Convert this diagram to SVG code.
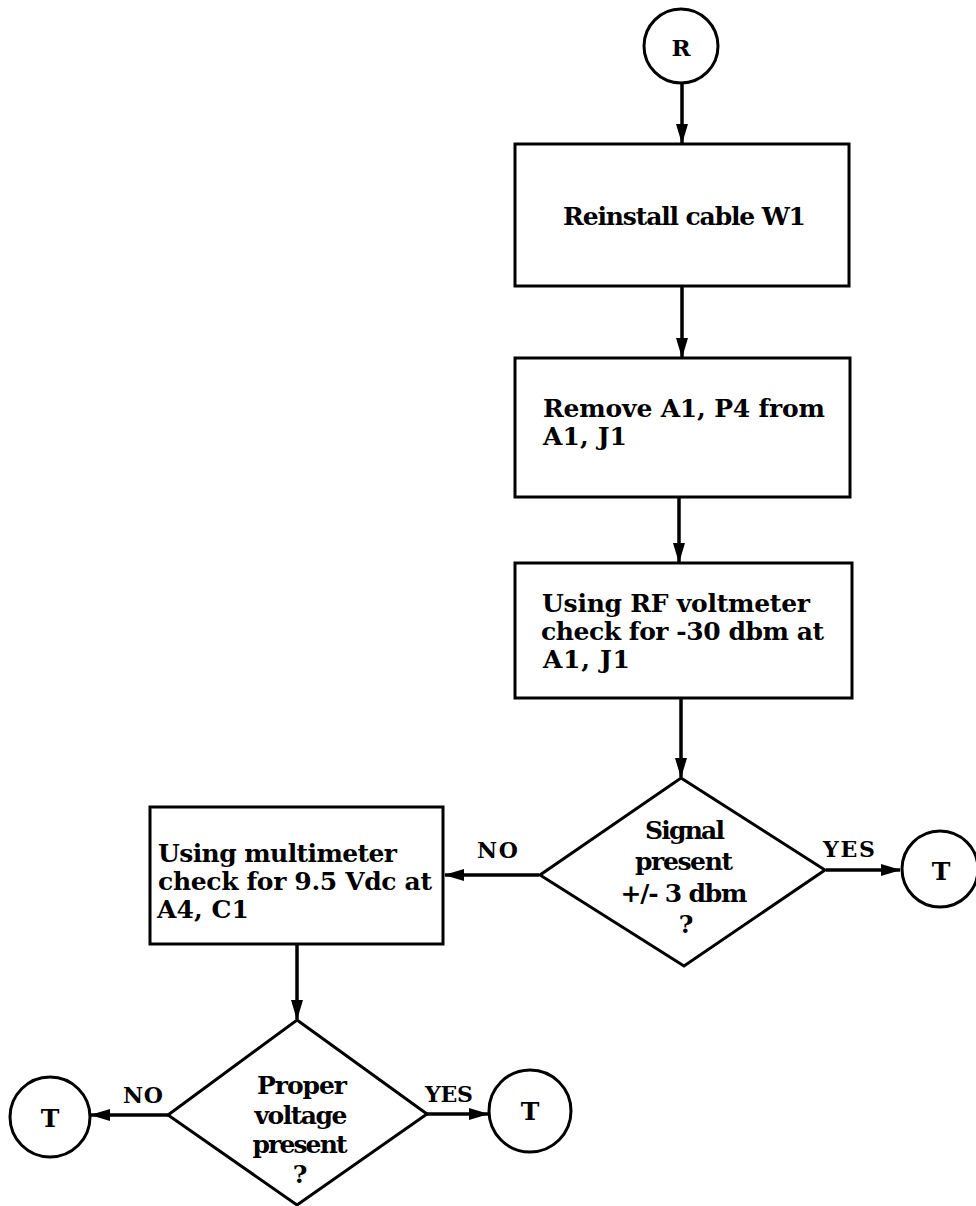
<svg xmlns="http://www.w3.org/2000/svg" width="976" height="1206" viewBox="0 0 976 1206">
<style>
.shape{fill:#fff;stroke:#000;stroke-width:3}
.t{font-family:"DejaVu Serif","Liberation Serif",serif;font-weight:bold;font-size:25px;fill:#000}
.lbl{font-size:22px}
.c{text-anchor:middle}
.conn line{stroke:#000;stroke-width:3.5}
</style>
<defs>
<marker id="ah" markerUnits="userSpaceOnUse" markerWidth="20" markerHeight="14" refX="19" refY="7" orient="auto"><path d="M0,1 L20,7 L0,13 Z" fill="#000"/></marker>
</defs>
<rect width="976" height="1206" fill="#fff"/>
<g id="connectors" class="conn">
<line x1="682" y1="84" x2="682" y2="143" marker-end="url(#ah)"/>
<line x1="682" y1="287" x2="682" y2="357" marker-end="url(#ah)"/>
<line x1="679" y1="498" x2="679" y2="562" marker-end="url(#ah)"/>
<line x1="681" y1="699" x2="681" y2="777" marker-end="url(#ah)"/>
<line x1="539" y1="875" x2="445" y2="875" marker-end="url(#ah)"/>
<line x1="826" y1="870" x2="900" y2="870" marker-end="url(#ah)"/>
<line x1="297" y1="945" x2="297" y2="1019" marker-end="url(#ah)"/>
<line x1="168" y1="1115" x2="91" y2="1115" marker-end="url(#ah)"/>
<line x1="427" y1="1114" x2="488" y2="1114" marker-end="url(#ah)"/>
<text class="t lbl" x="477" y="858" textLength="41">NO</text>
<text class="t lbl" x="823" y="857" textLength="52">YES</text>
<text class="t lbl" x="123" y="1103" textLength="40">NO</text>
<text class="t lbl" x="425" y="1102" textLength="48">YES</text>
</g>
<g id="start-R">
<circle class="shape" cx="681" cy="46" r="37"/>
<text class="t c" x="681" y="56" style="font-size:23px">R</text>
</g>
<g id="box-reinstall">
<rect class="shape" x="515" y="144" width="334" height="142"/>
<text class="t" x="563" y="225" textLength="243">Reinstall cable W1</text>
</g>
<g id="box-remove">
<rect class="shape" x="515" y="358" width="335" height="139"/>
<text class="t" x="543" y="417" textLength="282">Remove A1, P4 from</text>
<text class="t" x="543" y="445" textLength="84">A1, J1</text>
</g>
<g id="box-rf">
<rect class="shape" x="515" y="563" width="337" height="135"/>
<text class="t" x="542" y="612" textLength="268">Using RF voltmeter</text>
<text class="t" x="541" y="640" textLength="283">check for -30 dbm at</text>
<text class="t" x="543" y="668" textLength="87">A1, J1</text>
</g>
<g id="decision-signal">
<polygon class="shape" points="681,778 825,870 684,966 540,875"/>
<text class="t c" x="685" y="839" textLength="80">Signal</text>
<text class="t c" x="684" y="870" textLength="98">present</text>
<text class="t c" x="684" y="902" textLength="127">+/- 3 dbm</text>
<text class="t c" x="686" y="933">?</text>
</g>
<g id="T-yes1">
<circle class="shape" cx="940" cy="869" r="38"/>
<text class="t c" x="941" y="880">T</text>
</g>
<g id="box-multimeter">
<rect class="shape" x="150" y="807" width="293" height="137"/>
<text class="t" x="158" y="862" textLength="239">Using multimeter</text>
<text class="t" x="158" y="890" textLength="274">check for 9.5 Vdc at</text>
<text class="t" x="157" y="918" textLength="92">A4, C1</text>
</g>
<g id="decision-voltage">
<polygon class="shape" points="297,1020 427,1114 297,1205 168,1115"/>
<text class="t c" x="302" y="1094" textLength="90">Proper</text>
<text class="t c" x="301" y="1124" textLength="93">voltage</text>
<text class="t c" x="300" y="1153" textLength="95">present</text>
<text class="t c" x="300" y="1183">?</text>
</g>
<g id="T-no2">
<circle class="shape" cx="50" cy="1117" r="40"/>
<text class="t c" x="50" y="1127">T</text>
</g>
<g id="T-yes2">
<circle class="shape" cx="530" cy="1111" r="41"/>
<text class="t c" x="530" y="1120">T</text>
</g>
</svg>
